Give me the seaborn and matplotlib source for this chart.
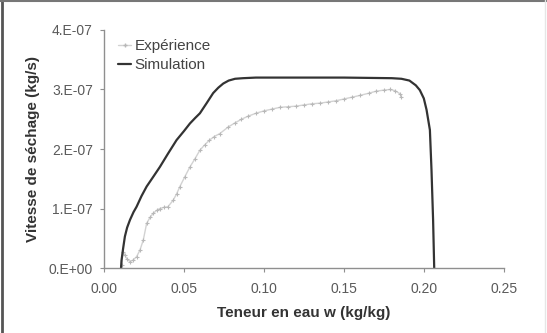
import matplotlib
matplotlib.use("Agg")
import matplotlib.pyplot as plt
import seaborn as sns
import pandas as pd
from matplotlib.lines import Line2D

# Experimental data (w in kg/kg, rate in 1e-7 kg/s)
exp_w = [0.0105, 0.011, 0.012, 0.013, 0.0142, 0.0163, 0.018, 0.0204, 0.0225, 0.0246,
         0.0267, 0.0288, 0.0308, 0.033, 0.035, 0.0375, 0.040, 0.0433, 0.0455, 0.0475,
         0.0505, 0.0538, 0.057, 0.060, 0.063, 0.066, 0.069, 0.0725, 0.0777, 0.082,
         0.086, 0.090, 0.095, 0.100, 0.105, 0.110, 0.115, 0.120, 0.125, 0.130,
         0.135, 0.140, 0.145, 0.150, 0.155, 0.160, 0.166, 0.170, 0.175, 0.179,
         0.182, 0.185, 0.186]
exp_rate = [0.00, 0.05, 0.27, 0.22, 0.16, 0.11, 0.13, 0.19, 0.30, 0.47,
            0.75, 0.85, 0.92, 0.97, 1.00, 1.02, 1.03, 1.14, 1.25, 1.37,
            1.53, 1.70, 1.84, 1.98, 2.07, 2.15, 2.21, 2.26, 2.37, 2.44,
            2.50, 2.55, 2.60, 2.64, 2.67, 2.70, 2.71, 2.72, 2.74, 2.76,
            2.77, 2.79, 2.81, 2.84, 2.87, 2.90, 2.94, 2.97, 2.99, 3.00,
            2.98, 2.93, 2.88]

# Simulation data
sim_w = [0.0107, 0.011, 0.012, 0.0131, 0.0145, 0.0163, 0.0185, 0.0204, 0.0235, 0.0267,
         0.031, 0.035, 0.040, 0.0454, 0.050, 0.0538, 0.057, 0.060, 0.0642, 0.0683,
         0.0715, 0.0746, 0.078, 0.082, 0.087, 0.095, 0.120, 0.150, 0.180, 0.186,
         0.191, 0.195, 0.1975, 0.200, 0.2017, 0.2038, 0.2048, 0.2058, 0.2065]
sim_rate = [0.00, 0.13, 0.33, 0.53, 0.68, 0.81, 0.94, 1.03, 1.21, 1.37,
            1.54, 1.70, 1.92, 2.15, 2.30, 2.43, 2.52, 2.60, 2.77, 2.94,
            3.03, 3.10, 3.15, 3.18, 3.19, 3.20, 3.20, 3.20, 3.19, 3.18,
            3.15, 3.07, 2.99, 2.85, 2.66, 2.32, 1.65, 0.81, 0.00]

xticks = [0.00, 0.05, 0.10, 0.15, 0.20, 0.25]
xtick_labels = ["0.00", "0.05", "0.10", "0.15", "0.20", "0.25"]
yticks = [0, 1e-7, 2e-7, 3e-7, 4e-7]
ytick_labels = ["0.E+00", "1.E-07", "2.E-07", "3.E-07", "4.E-07"]

sns.set_theme(style="white")
plt.rcParams['font.family'] = ['Liberation Sans', 'DejaVu Sans']

df_exp = pd.DataFrame({"w": exp_w, "rate": [v * 1e-7 for v in exp_rate]})
df_sim = pd.DataFrame({"w": sim_w, "rate": [v * 1e-7 for v in sim_rate]})

fig = plt.figure(figsize=(5.47, 3.33), dpi=100)
ax = fig.add_axes([0.190, 0.195, 0.731, 0.715])

exp_color = "#d2d2d2"
exp_mark = "#b8b8b8"
sim_color = "#333333"
sns.lineplot(data=df_exp, x="w", y="rate", ax=ax, sort=False, color=exp_color,
             linestyle="-", linewidth=1.0, marker="+", markersize=3,
             markeredgewidth=0.8, markeredgecolor=exp_mark)
sns.lineplot(data=df_sim, x="w", y="rate", ax=ax, sort=False, color=sim_color,
             linewidth=1.6)

ax.set_xlim(0, 0.25)
ax.set_ylim(0, 4e-7)
ax.set_xticks(xticks)
ax.set_xticklabels(xtick_labels)
ax.set_yticks(yticks)
ax.set_yticklabels(ytick_labels)

for s in ["top", "right"]:
    ax.spines[s].set_visible(False)
for s in ["left", "bottom"]:
    ax.spines[s].set_color("#8f8f8f")
    ax.spines[s].set_linewidth(1.0)
ax.tick_params(axis="both", direction="out", length=3, width=0.8,
               color="#8f8f8f", labelsize=10, labelcolor="#5a5a5a", pad=5,
               left=True, bottom=True)
ax.tick_params(axis="x", pad=7)

ax.set_xlabel("Teneur en eau w (kg/kg)", fontsize=11, fontweight="bold",
              color="#333333", labelpad=7)
ax.set_ylabel("Vitesse de séchage (kg/s)", fontsize=11, fontweight="bold",
              color="#333333", labelpad=6)

handles = [Line2D([], [], color=exp_color, linestyle="-", marker="+",
                  markersize=3, linewidth=1.0, markeredgecolor=exp_mark),
           Line2D([], [], color=sim_color, linewidth=1.6)]
ax.legend(handles, ["Expérience", "Simulation"], loc="upper left",
          bbox_to_anchor=(0.0, 1.018), frameon=False, fontsize=11,
          handlelength=0.9, handletextpad=0.2, labelspacing=0.3,
          labelcolor="#444444")

# figure border
fig.add_artist(Line2D([0.004, 0.004], [0, 1], transform=fig.transFigure,
                      color="#555555", linewidth=2.0))
fig.add_artist(Line2D([0, 1], [0.996, 0.996], transform=fig.transFigure,
                      color="#777777", linewidth=1.5))
fig.add_artist(Line2D([0.997, 0.997], [0, 1], transform=fig.transFigure,
                      color="#e6e6e6", linewidth=1.0))

fig.savefig("out.png", dpi=100)
